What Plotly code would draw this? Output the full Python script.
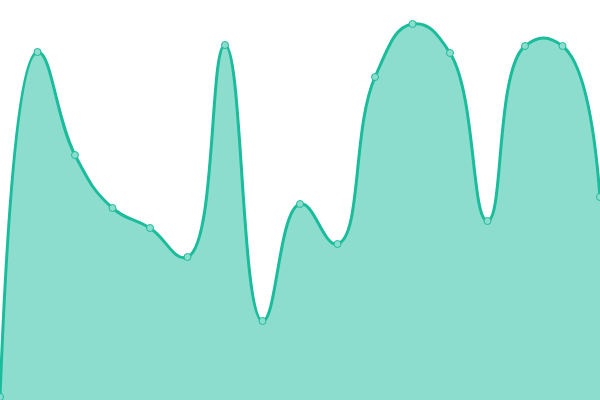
import plotly.graph_objects as go

x_vals = list(range(17))
y_vals = [3, 348, 245, 192, 172, 143, 355, 79, 196, 156, 323, 376, 347, 179, 354, 354, 203]

fig = go.Figure()
fig.add_trace(go.Scatter(
    x=x_vals, y=y_vals,
    mode="lines+markers",
    line=dict(color="#1abc9c", width=3, shape="spline", smoothing=1.3),
    fill="tozeroy",
    fillcolor="rgba(26,188,156,0.5)",
    marker=dict(size=7, color="#8cddcd", line=dict(color="#1abc9c", width=1)),
    hoverinfo="skip",
))
fig.update_layout(
    width=600, height=400,
    margin=dict(l=0, r=0, t=0, b=0),
    paper_bgcolor="white", plot_bgcolor="white",
    showlegend=False,
    xaxis=dict(range=[0, 16], visible=False),
    yaxis=dict(range=[0, 400], visible=False),
)
fig.write_html(
    "out.html",
    config={"displayModeBar": False, "staticPlot": True},
    post_script="document.body.style.margin='0';document.body.style.overflow='hidden';",
)
